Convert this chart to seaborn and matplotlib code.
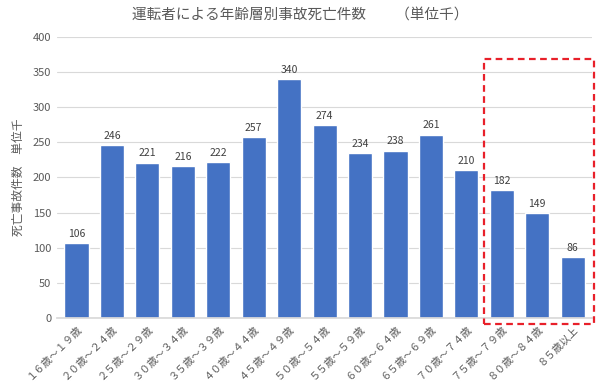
import matplotlib
matplotlib.use("Agg")
import matplotlib.pyplot as plt
import seaborn as sns
import pandas as pd
from matplotlib.patches import Rectangle

categories = ["１６歳～１９歳", "２０歳～２４歳", "２５歳～２９歳", "３０歳～３４歳", "３５歳～３９歳",
              "４０歳～４４歳", "４５歳～４９歳", "５０歳～５４歳", "５５歳～５９歳", "６０歳～６４歳",
              "６５歳～６９歳", "７０歳～７４歳", "７５歳～７９歳", "８０歳～８４歳", "８５歳以上"]
values = [106, 246, 221, 216, 222, 257, 340, 274, 234, 238, 261, 210, 182, 149, 86]
yticks = [0, 50, 100, 150, 200, 250, 300, 350, 400]
title = "運転者による年齢層別事故死亡件数　　（単位千）"
ylabel = "死亡事故件数　単位千"

sns.set_theme(style="white")
plt.rcParams['font.family'] = ['Noto Sans CJK JP', 'DejaVu Sans']

df = pd.DataFrame({"cat": categories, "val": values})
fig = plt.figure(figsize=(6, 3.92), dpi=100)
ax = fig.add_axes([0.095, 0.189, 0.892, 0.717])
sns.barplot(data=df, x="cat", y="val", color="#4472C4", saturation=1, width=0.68, ax=ax)

gray = "#595959"
ax.set_ylim(0, 400)
ax.set_yticks(yticks)
ax.set_yticklabels([str(t) for t in yticks], fontsize=8, color=gray)
ax.yaxis.grid(True, color="#D9D9D9", linewidth=0.8)
ax.set_axisbelow(True)
for s in ["top", "right", "left"]:
    ax.spines[s].set_visible(False)
ax.spines["bottom"].set_color("#D9D9D9")
ax.tick_params(axis="both", length=0, pad=4)
ax.set_xticks(range(len(categories)))
ax.set_xticklabels(categories, rotation=45, ha="right", rotation_mode="anchor", fontsize=7.5, color=gray)
ax.set_xlabel("")
ax.set_ylabel(ylabel, fontsize=8.5, color=gray, labelpad=6)
ax.set_xlim(-0.55, len(categories) - 0.45)

for i, v in enumerate(values):
    ax.text(i, v + 6, str(v), ha="center", va="bottom", fontsize=7.5, color="#404040")

fig.text(0.5, 0.962, title, ha="center", va="center", fontsize=10.5, color=gray)

rect = Rectangle((11.49, -9), 3.1, 378, fill=False, edgecolor="#E8202A", linewidth=1.6,
                 linestyle=(0, (3, 2)), clip_on=False, zorder=5)
ax.add_patch(rect)

fig.savefig("out.png", dpi=100)
